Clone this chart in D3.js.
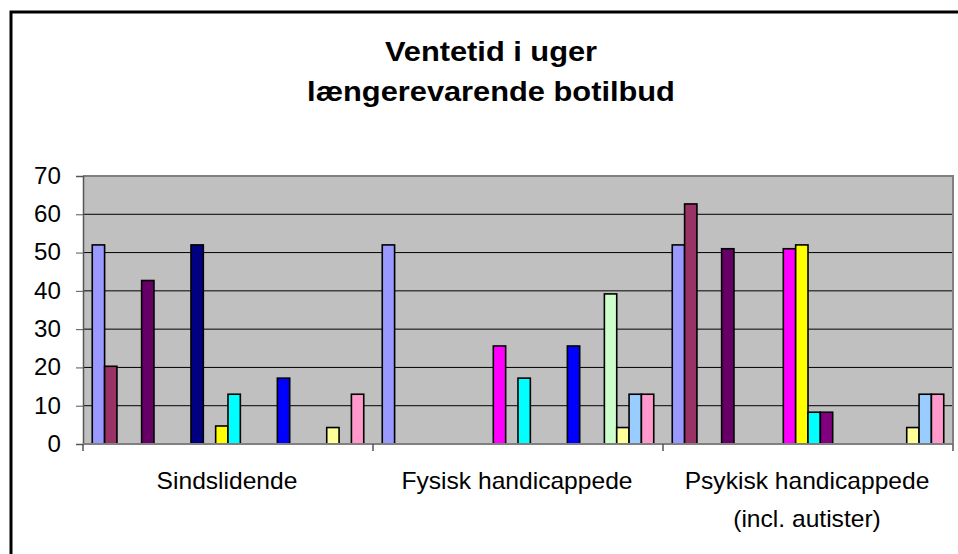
<!DOCTYPE html>
<html>
<head>
<meta charset="utf-8">
<script src="https://cdn.jsdelivr.net/npm/d3@7"></script>
<style>
  body { margin: 0; background: #fff; }
  svg text { font-family: "Liberation Sans", Arial, sans-serif; }
</style>
</head>
<body>
<div class="chart"></div>
<script>
const categories = ["Sindslidende", "Fysisk handicappede", "Psykisk handicappede|(incl. autister)"]
const seriesNames = d3.range(1, 23).map(i => `Serie ${i}`)
const seriesColors = ["#9999FF", "#993366", "#FFFFCC", "#CCFFFF", "#660066", "#FF8080", "#0066CC", "#CCCCFF",
  "#000080", "#FF00FF", "#FFFF00", "#00FFFF", "#800080", "#800000", "#008080", "#0000FF",
  "#00CCFF", "#CCFFFF", "#CCFFCC", "#FFFF99", "#99CCFF", "#FF99CC"]
// values per series, one per category (null = no bar)
const seriesValues = [
  [52, 52, 52],
  [20.3, null, 62.7],
  [null, null, null],
  [null, null, null],
  [42.7, null, 51],
  [null, null, null],
  [null, null, null],
  [null, null, null],
  [52, null, null],
  [null, 25.6, 51],
  [4.7, null, 52],
  [13, 17.2, 8.3],
  [null, null, 8.3],
  [null, null, null],
  [null, null, null],
  [17.2, 25.6, null],
  [null, null, null],
  [null, null, null],
  [null, 39.2, null],
  [4.3, 4.3, 4.3],
  [null, 13, 13],
  [13, 13, 13]
]
const yTicks = [0, 10, 20, 30, 40, 50, 60, 70]
const titleLines = ["Ventetid i uger", "længerevarende botilbud"]

const width = 958, height = 554
const plot = { left: 83, right: 953, top: 176, bottom: 444 }

const svg = d3.select(".chart").append("svg").attr("width", width).attr("height", height)

// outer frame
svg.append("rect").attr("x", 11).attr("y", 12).attr("width", 1000).attr("height", 600)
  .attr("fill", "#fff").attr("stroke", "#000").attr("stroke-width", 3)

// title (text looks a bit wider than tall in the original)
svg.append("g").selectAll("text").data(titleLines).enter().append("text")
  .attr("transform", (d, i) => `translate(491, ${61 + i * 40}) scale(1.1, 1)`)
  .attr("text-anchor", "middle").attr("font-size", 28).attr("font-weight", "bold")
  .text(d => d)

const x0 = d3.scaleBand().domain(categories).range([plot.left, plot.right])
const x1 = d3.scaleBand().domain(seriesNames).range([0, x0.bandwidth()]).paddingInner(0).paddingOuter(0.75)
const y = d3.scaleLinear().domain([0, 70]).range([plot.bottom, plot.top])

svg.append("rect").attr("x", plot.left).attr("y", plot.top)
  .attr("width", plot.right - plot.left).attr("height", plot.bottom - plot.top).attr("fill", "#C0C0C0")

// gridlines
svg.append("g").selectAll("line").data(yTicks.filter(t => t > 0 && t < 70)).enter().append("line")
  .attr("x1", plot.left).attr("x2", plot.right)
  .attr("y1", d => y(d)).attr("y2", d => y(d))
  .attr("stroke", "#000").attr("stroke-width", 1)

// plot border top/right
svg.append("path")
  .attr("d", `M${plot.left},${plot.top}H${plot.right}V${plot.bottom}`)
  .attr("fill", "none").attr("stroke", "#808080").attr("stroke-width", 2)

// bars
const bars = []
seriesValues.forEach((vals, s) => {
  vals.forEach((v, c) => {
    if (v != null) bars.push({ s, c, v })
  })
})
svg.append("g").selectAll("rect").data(bars).enter().append("rect")
  .attr("x", d => x0(categories[d.c]) + x1(seriesNames[d.s]))
  .attr("y", d => y(d.v))
  .attr("width", x1.bandwidth())
  .attr("height", d => y(0) - y(d.v))
  .attr("fill", d => seriesColors[d.s])
  .attr("stroke", "#000").attr("stroke-width", 1.6)

// y axis
const yAxis = svg.append("g").attr("transform", `translate(${plot.left},0)`)
  .call(d3.axisLeft(y).tickValues(yTicks).tickSize(7).tickPadding(14))
yAxis.select(".domain").attr("stroke", "#555").attr("stroke-width", 1.5)
yAxis.selectAll(".tick line").attr("stroke", "#555")
yAxis.selectAll("text").attr("font-size", 23).attr("fill", "#000")
  .attr("transform", "scale(1.05, 1)")
  .style("font-family", '"Liberation Sans", Arial, sans-serif')

// x axis
svg.append("line").attr("x1", plot.left).attr("x2", plot.right)
  .attr("y1", plot.bottom).attr("y2", plot.bottom).attr("stroke", "#808080").attr("stroke-width", 2)
const bounds = categories.map(c => x0(c)).concat([plot.right])
svg.append("g").selectAll("line").data(bounds).enter().append("line")
  .attr("x1", d => d).attr("x2", d => d)
  .attr("y1", plot.bottom).attr("y2", plot.bottom + 7).attr("stroke", "#555").attr("stroke-width", 1.5)

const catLabels = svg.append("g").selectAll("text").data(categories).enter().append("text")
  .attr("transform", d => `translate(${x0(d) + x0.bandwidth() / 2 - 1}, 489) scale(1.07, 1)`)
  .attr("text-anchor", "middle").attr("font-size", 23)
catLabels.each(function (d) {
  d.split("|").forEach((line, i) => {
    d3.select(this).append("tspan")
      .attr("x", 0)
      .attr("dy", i === 0 ? 0 : 38)
      .text(line)
  })
})
</script>
</body>
</html>
